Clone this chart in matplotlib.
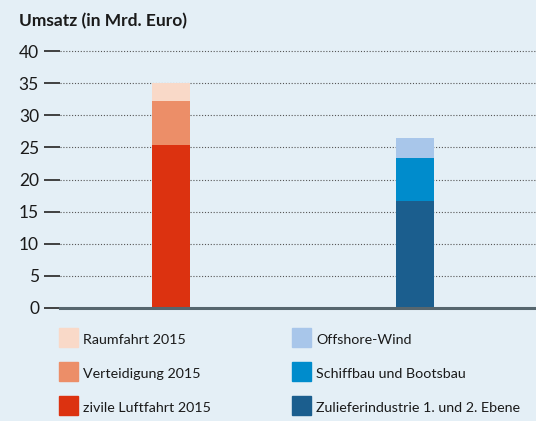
import matplotlib.pyplot as plt
from matplotlib.patches import Rectangle

# Daten
gruppen = ['Luftfahrt', 'Maritim']
luft_labels = ['zivile Luftfahrt 2015', 'Verteidigung 2015', 'Raumfahrt 2015']
luft_werte = [25.4, 6.8, 2.8]
mar_labels = ['Zulieferindustrie 1. und 2. Ebene', 'Schiffbau und Bootsbau', 'Offshore-Wind']
mar_werte = [16.6, 6.7, 3.2]
luft_farben = ['#dc3210', '#ec8e68', '#f9d9c8']
mar_farben = ['#1b5e8e', '#008ccc', '#a8c6ea']
yticks = [0, 5, 10, 15, 20, 25, 30, 35, 40]

bg = '#e4eff6'
W, H = 536, 421
plt.rcParams['font.family'] = ['Lato', 'DejaVu Sans']

fig = plt.figure(figsize=(W / 100, H / 100), dpi=100, facecolor=bg)
ax = fig.add_axes([60 / W, (H - 308) / H, 476 / W, 257 / H], facecolor=bg)

# gestapelte Balken
breite = 38 / 244
for x, werte, farben in [(0, luft_werte, luft_farben), (1, mar_werte, mar_farben)]:
    unten = 0
    for w, c in zip(werte, farben):
        ax.bar(x, w, bottom=unten, width=breite, color=c, zorder=3)
        unten += w

ax.set_xlim(-0.455, 1.496)
ax.set_ylim(0, 40)
ax.set_yticks(yticks)
ax.set_yticklabels([str(t) for t in yticks], fontsize=12.5, color='#1a1a1a')
ax.set_xticks([])
ax.tick_params(axis='y', length=11.5, width=1.3, color='#333333', pad=3.6)
for t in yticks[1:]:
    ax.axhline(t, color='#555555', lw=0.8, ls=(0, (1, 1.6)), zorder=1, clip_on=False)
for s in ['top', 'right', 'left']:
    ax.spines[s].set_visible(False)
ax.spines['bottom'].set_color('#56666e')
ax.spines['bottom'].set_linewidth(2.2)
ax.spines['bottom'].set_zorder(4)

fig.text(19 / W, 1 - 21 / H, 'Umsatz (in Mrd. Euro)', fontsize=12.5, fontweight='bold',
         color='#1a1a1a', va='center', ha='left')

# Legende
zeilen_y = [328, 362, 396]
for spalte_x, labels, farben in [(59, luft_labels, luft_farben), (292, mar_labels, mar_farben)]:
    for y, lab, c in zip(zeilen_y, labels[::-1], farben[::-1]):
        fig.add_artist(Rectangle((spalte_x / W, 1 - (y + 19) / H), 19 / W, 19 / H,
                                 transform=fig.transFigure, color=c))
        fig.text((spalte_x + 24) / W, 1 - (y + 12) / H, lab, fontsize=10.3,
                 color='#1a1a1a', va='center', ha='left')

fig.savefig('out.png', dpi=100, facecolor=bg)
